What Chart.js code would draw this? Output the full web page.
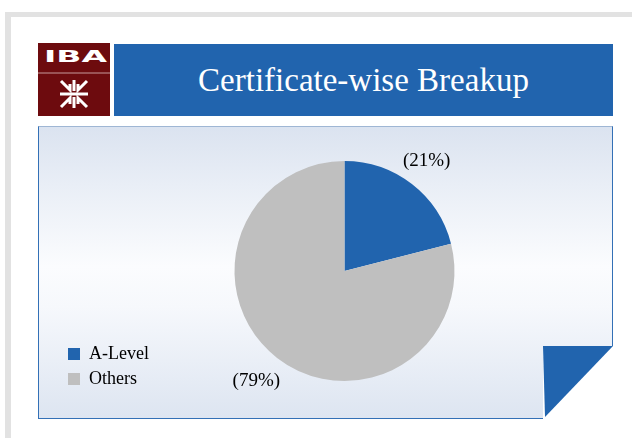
<!DOCTYPE html>
<html>
<head>
<meta charset="utf-8">
<script src="https://cdn.jsdelivr.net/npm/chart.js@4/dist/chart.umd.min.js"></script>
<style>
  body { margin: 0; width: 632px; height: 438px; background: #fff; overflow: hidden; position: relative; }
  .frame { position: absolute; left: 5px; top: 12px; width: 640px; height: 440px;
           border-top: 5px solid #e2e2e2; border-left: 6px solid #e2e2e2; }
  .logo { position: absolute; left: 38px; top: 43px; width: 72px; height: 73px; background: #6d0b0e; }
  .logo svg { position: absolute; left: 0; top: 0; }
  .titlebar { position: absolute; left: 114px; top: 44px; width: 499px; height: 72px; background: #2164ae;
              color: #fff; font: 33px "Liberation Serif", serif; display: flex; align-items: center; justify-content: center; }
  .panel { position: absolute; left: 38px; top: 126px; width: 575px; height: 293px; box-sizing: border-box;
           border: 1px solid #3370b6; border-top-color: #9fb6d4;
           background: linear-gradient(to bottom, #dbe3f0 0%, #e9eef6 20%, #fbfcfe 48%, #f6f8fc 62%, #dde5f1 100%); }
  #chart { position: absolute; left: 38px; top: 126px; }
  .corner { position: absolute; left: 542px; top: 345px; }
</style>
</head>
<body>
<div class="frame"></div>
<div class="logo">
  <svg width="72" height="73">
    <text x="6" y="19" textLength="63" lengthAdjust="spacingAndGlyphs" fill="#fff"
          style="font: bold 15px 'DejaVu Sans', sans-serif">IBA</text>
    <line x1="0" y1="30" x2="72" y2="30" stroke="#c79b9b" stroke-width="1"/>
    <g transform="translate(21,37)" stroke="#fff" stroke-width="3" fill="none">
      <line x1="15" y1="0" x2="15" y2="11"/>
      <line x1="15" y1="17" x2="15" y2="28"/>
      <line x1="1" y1="14" x2="29" y2="14"/>
      <polyline points="2,1 11,10 11,4"/>
      <polyline points="28,1 19,10 19,4"/>
      <polyline points="2,27 11,18 11,24"/>
      <polyline points="28,27 19,18 19,24"/>
    </g>
  </svg>
</div>
<div class="titlebar">Certificate-wise Breakup</div>
<div class="panel"></div>
<canvas id="chart" width="575" height="293"></canvas>
<svg class="corner" width="90" height="93">
  <rect x="1" y="1" width="89" height="92" fill="#fff"/>
  <polygon points="1,1 71,1 3,72" fill="#2164ae"/>
</svg>

<script>
// chart data
const categories = ['A-Level', 'Others'];
const shares = [21, 79];
const sliceLabels = ['(21%)', '(79%)'];
const sliceColors = ['#2164ae', '#bfbfbf'];

// draws the "(xx%)" labels just outside each slice
const outsideLabels = {
  id: 'outsideLabels',
  afterDatasetsDraw(chart) {
    const ctx = chart.ctx;
    const meta = chart.getDatasetMeta(0);
    ctx.save();
    ctx.font = '19px "Liberation Serif", serif';
    ctx.fillStyle = '#000';
    ctx.textAlign = 'center';
    ctx.textBaseline = 'middle';
    meta.data.forEach((arc, i) => {
      const mid = (arc.startAngle + arc.endAngle) / 2;
      const r = arc.outerRadius + 29;
      ctx.fillText(sliceLabels[i], arc.x + Math.cos(mid) * r - 3, arc.y + Math.sin(mid) * r);
    });
    ctx.restore();
  }
};

new Chart(document.getElementById('chart'), {
  type: 'pie',
  data: {
    labels: categories,
    datasets: [{
      data: shares,
      backgroundColor: sliceColors,
      borderWidth: 0
    }]
  },
  options: {
    responsive: false,
    animation: false,
    radius: 110,
    layout: { padding: { left: 23, top: 21, bottom: 24, right: 83 } },
    plugins: {
      tooltip: { enabled: false },
      legend: {
        position: 'left',
        align: 'end',
        labels: {
          boxWidth: 12,
          boxHeight: 12,
          padding: 7,
          color: '#000',
          font: { family: '"Liberation Serif", serif', size: 18 }
        }
      }
    }
  },
  plugins: [outsideLabels]
});
</script>
</body>
</html>
